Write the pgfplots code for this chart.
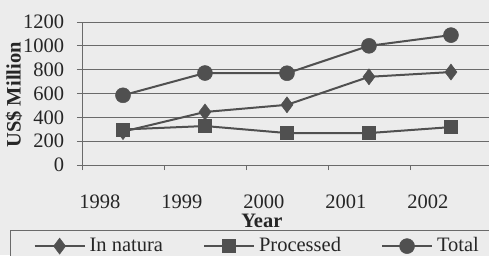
\documentclass[border=0pt]{standalone}
\usepackage{fontspec}
\setmainfont{Liberation Serif}
\usepackage{pgfplots}
\pgfplotsset{compat=1.18}
\definecolor{bgc}{HTML}{ECECEC}
\definecolor{ln}{HTML}{505050}
\definecolor{gridc}{HTML}{6A6A6A}
\begin{document}
\fontsize{20}{24}\selectfont
\begin{tikzpicture}[x=1pt,y=1pt]
\useasboundingbox (0,0) rectangle (489,255);
\fill[bgc] (0,0) rectangle (489,255);
\begin{axis}[
  at={(82pt,90pt)}, anchor=south west,
  scale only axis, width=408pt, height=143pt,
  xmin=0, xmax=4.976, ymin=0, ymax=1200,
  axis x line*=bottom, axis y line*=left,
  axis line style={draw=gridc, line width=0.9pt, -},
  xtick={0,1,2,3,4},
  xticklabels={1998,1999,2000,2001,2002},
  ytick={0,200,...,1200},
  tick align=outside, major tick length=5pt,
  tick style={draw=gridc, line width=0.9pt},
  ymajorgrids, grid style={draw=gridc, line width=0.9pt},
  /pgf/number format/assume math mode=true,
  /pgf/number format/1000 sep={},
  tick label style={font=\fontsize{20.5}{24}\selectfont, text=black!85},
  xticklabel style={anchor=center, xshift=18pt, yshift=-32pt},
  yticklabel style={anchor=east, xshift=-6pt},
  xlabel={\textbf{Year}},
  xlabel style={at={(rel axis cs:0.441,0)}, anchor=center, yshift=-56pt, font=\fontsize{20.5}{24}\selectfont, text=black!85},
  ylabel={\textbf{US\$ Million}},
  ylabel style={at={(rel axis cs:-0.167,0.49)}, anchor=center, rotate=0, font=\fontsize{20.5}{24}\selectfont, text=black!85},
  legend columns=3,
  legend style={at={(rel axis cs:-0.176,-0.455)}, anchor=north west,
    draw=gridc, line width=0.9pt, fill=bgc, inner xsep=23pt, inner ysep=5pt,
    font=\fontsize{20.5}{24}\selectfont, text=black!85,
    /tikz/every odd column/.append style={column sep=2pt},
    /tikz/every even column/.append style={column sep=38pt}},
  legend image code/.code={%
    \draw[#1, mark repeat=2, mark phase=2] plot coordinates {(0pt,0pt) (25pt,0pt) (50pt,0pt)};},
  every axis plot/.append style={line width=2pt, draw=ln},
  clip=false,
]
\addplot[mark=diamond*, mark size=8pt, mark options={line width=0.5pt, fill=ln, draw=ln}] coordinates {(0.5,280) (1.5,445) (2.5,505) (3.5,740) (4.5,780)};
\addlegendentry{In natura}
\addplot[mark=square*, mark size=6.5pt, mark options={line width=0.5pt, fill=ln, draw=ln}] coordinates {(0.5,298) (1.5,327) (2.5,268) (3.5,268) (4.5,318)};
\addlegendentry{Processed}
\addplot[mark=*, mark size=7.5pt, mark options={line width=0.5pt, fill=ln, draw=ln}] coordinates {(0.5,585) (1.5,772) (2.5,770) (3.5,1000) (4.5,1090)};
\addlegendentry{Total}
\end{axis}
\end{tikzpicture}
\end{document}
